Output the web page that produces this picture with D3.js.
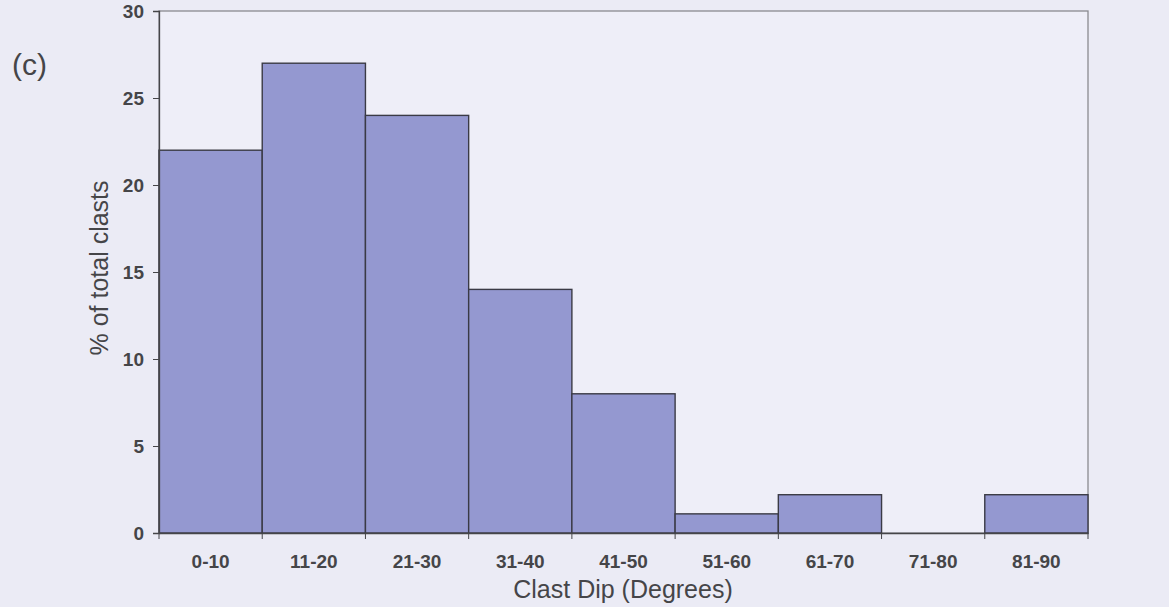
<!DOCTYPE html>
<html><head><meta charset="utf-8">
<script src="https://cdn.jsdelivr.net/npm/d3@7"></script>
<style>html,body{margin:0;padding:0;background:#ebebf5;}svg{display:block;}</style>
</head><body>
<svg id="chart" width="1169" height="607"></svg>
<script>
const categories = ["0-10","11-20","21-30","31-40","41-50","51-60","61-70","71-80","81-90"];
const values = [22, 27, 24, 14, 8, 1.1, 2.2, 0, 2.2];
const yTicks = [0, 5, 10, 15, 20, 25, 30];

const svg = d3.select("#chart");
const m = {left:159, right:1088, top:11, bottom:533};
const x = d3.scaleBand().domain(categories).range([m.left, m.right]).padding(0);
const y = d3.scaleLinear().domain([0, 30]).range([m.bottom, m.top]);
const ink = "#454548";
const font = "Liberation Sans, Arial, sans-serif";

svg.append("rect").attr("width",1169).attr("height",607).attr("fill","#ebebf5");
svg.append("rect").attr("x",m.left).attr("y",m.top).attr("width",m.right-m.left).attr("height",m.bottom-m.top)
  .attr("fill","#eeeef8").attr("stroke","#8a8a90").attr("stroke-width",1.3);

svg.append("g").selectAll("rect").data(categories.map((c,i)=>({c,v:values[i]}))).join("rect")
  .attr("x",d=>x(d.c)).attr("y",d=>y(d.v)).attr("width",x.bandwidth()).attr("height",d=>y(0)-y(d.v))
  .attr("fill","#9498d0").attr("stroke","#3a3a45").attr("stroke-width",1.4)
  .attr("display",d=>d.v>0?null:"none");

const yAxis = svg.append("g").attr("transform",`translate(${m.left},0)`)
  .call(d3.axisLeft(y).tickValues(yTicks).tickSize(6).tickPadding(9));
yAxis.select(".domain").attr("stroke",ink).attr("stroke-width",1.3);
yAxis.selectAll("line").attr("stroke",ink);
yAxis.selectAll("text").attr("font-family",font).attr("font-size",19).attr("font-weight","bold").attr("fill",ink);

const xAxis = svg.append("g").attr("transform",`translate(0,${m.bottom})`)
  .call(d3.axisBottom(x).tickSize(0).tickPadding(22));
xAxis.select(".domain").attr("stroke",ink).attr("stroke-width",1.5);
xAxis.selectAll("text").attr("font-family",font).attr("font-size",19).attr("font-weight","bold").attr("fill",ink);
// boundary ticks
const bounds = categories.map(c=>x(c)).concat([m.right]);
svg.append("g").selectAll("line").data(bounds).join("line")
  .attr("x1",d=>d).attr("x2",d=>d).attr("y1",m.bottom).attr("y2",m.bottom+6)
  .attr("stroke",ink).attr("stroke-width",1);

svg.append("text").attr("x",623).attr("y",598).attr("text-anchor","middle")
  .attr("font-family",font).attr("font-size",25).attr("fill",ink)
  .text("Clast Dip (Degrees)");
svg.append("text").attr("transform","translate(108,268) rotate(-90)").attr("text-anchor","middle")
  .attr("font-family",font).attr("font-size",25).attr("fill",ink)
  .text("% of total clasts");
svg.append("text").attr("x",12).attr("y",75)
  .attr("font-family",font).attr("font-size",30).attr("fill",ink)
  .text("(c)");
</script>
</body></html>
